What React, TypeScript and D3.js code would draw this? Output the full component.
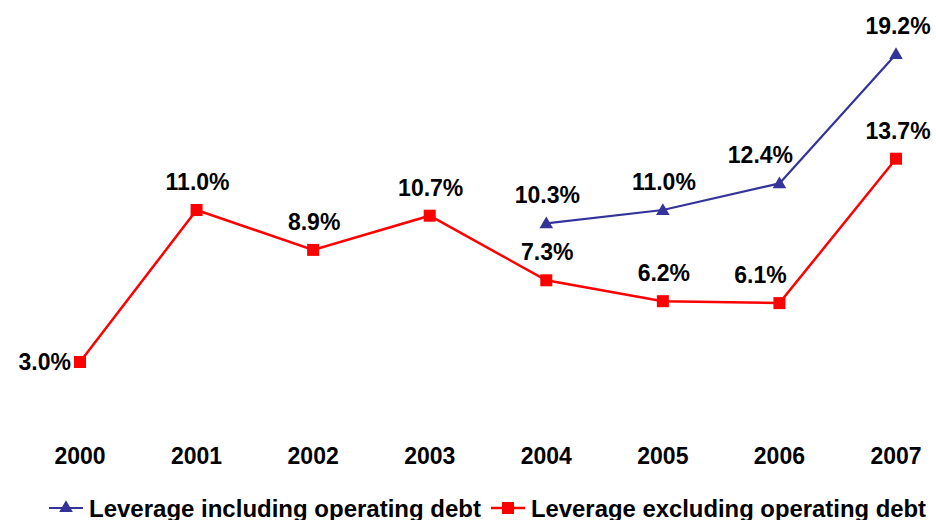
import React from "react";
import * as d3 from "d3";

const years = ["2000", "2001", "2002", "2003", "2004", "2005", "2006", "2007"];
const includingOperating: (number | null)[] = [null, null, null, null, 10.3, 11.0, 12.4, 19.2];
const excludingOperating: number[] = [3.0, 11.0, 8.9, 10.7, 7.3, 6.2, 6.1, 13.7];
const seriesNames = ["Leverage including operating debt", "Leverage excluding operating debt"];

const BLUE = "#333399";
const RED = "#FF0000";
const FONT = "'Liberation Sans', Arial, sans-serif";

export default function App() {
  const W = 936, H = 520;
  const x = d3.scalePoint<string>().domain(years).range([80, 896]);
  const y = d3.scaleLinear().domain([0, 20]).range([419, 39]);

  const line = d3
    .line<[string, number | null]>()
    .defined((d) => d[1] !== null)
    .x((d) => x(d[0])!)
    .y((d) => y(d[1] as number));

  const incData: [string, number | null][] = years.map((yr, i) => [yr, includingOperating[i]]);
  const excData: [string, number | null][] = years.map((yr, i) => [yr, excludingOperating[i]]);

  const tri = d3.symbol().type(d3.symbolTriangle).size(80)();
  const labelDx = (yr: string) => (yr === "2006" ? -19 : yr === "2007" ? 2 : 1);

  return (
    <svg width={W} height={H} style={{ position: "absolute", left: 0, top: 0, background: "#fff" }}
      fontFamily={FONT} fontWeight="bold">
      <path d={line(incData) || ""} fill="none" stroke={BLUE} strokeWidth={2.2} />
      <path d={line(excData) || ""} fill="none" stroke={RED} strokeWidth={2.5} />
      {incData.filter((d) => d[1] !== null).map((d) => (
        <path key={"ti" + d[0]} d={tri || ""} transform={`translate(${x(d[0])},${y(d[1] as number) + 1})`} fill={BLUE} />
      ))}
      {excData.map((d) => (
        <rect key={"se" + d[0]} x={x(d[0])! - 6} y={y(d[1] as number) - 6} width={12} height={12} fill={RED} />
      ))}
      {incData.filter((d) => d[1] !== null).map((d) => (
        <text key={"li" + d[0]} x={x(d[0])! + labelDx(d[0])} y={y(d[1] as number) - 20}
          textAnchor="middle" fontSize={23} fill="#000">{(d[1] as number).toFixed(1)}%</text>
      ))}
      {excData.map((d, i) => (
        i === 0 ? (
          <text key={"le" + d[0]} x={x(d[0])! - 9} y={y(d[1] as number) + 8} textAnchor="end" fontSize={23} fill="#000">
            {(d[1] as number).toFixed(1)}%
          </text>
        ) : (
          <text key={"le" + d[0]} x={x(d[0])! + labelDx(d[0])} y={y(d[1] as number) - 20}
            textAnchor="middle" fontSize={23} fill="#000">{(d[1] as number).toFixed(1)}%</text>
        )
      ))}
      {years.map((yr) => (
        <text key={"ax" + yr} x={x(yr)} y={464} textAnchor="middle" fontSize={23} fill="#000">{yr}</text>
      ))}
      <g transform="translate(0,508)">
        <line x1={49} x2={83} y1={0} y2={0} stroke={BLUE} strokeWidth={2.2} />
        <path d={tri || ""} transform="translate(66,0)" fill={BLUE} />
        <text x={89} y={8.5} fontSize={24} fill="#000" textLength={392} lengthAdjust="spacingAndGlyphs">{seriesNames[0]}</text>
        <line x1={491} x2={525} y1={0} y2={0} stroke={RED} strokeWidth={2.5} />
        <rect x={502} y={-6} width={12} height={12} fill={RED} />
        <text x={531} y={8.5} fontSize={24} fill="#000" textLength={395} lengthAdjust="spacingAndGlyphs">{seriesNames[1]}</text>
      </g>
    </svg>
  );
}
